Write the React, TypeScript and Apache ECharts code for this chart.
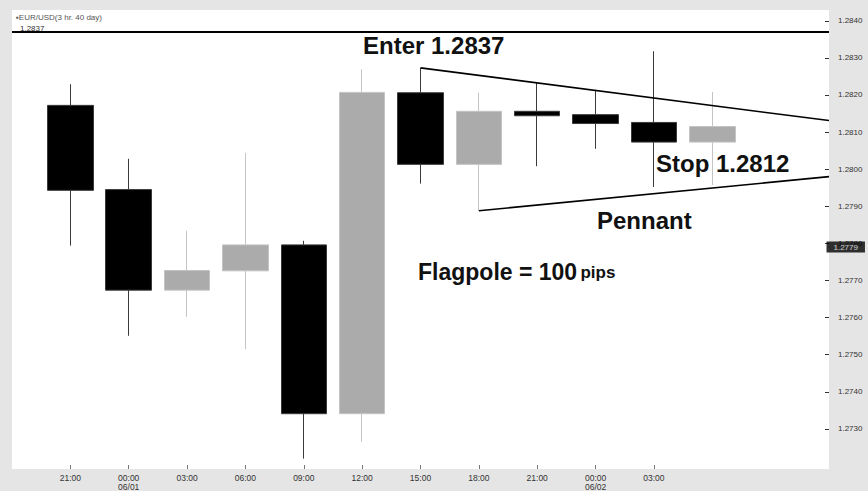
import React, { useEffect, useRef } from "react";
import * as echarts from "echarts";

const categories = [
  "05/31 18:00", "05/31 21:00", "06/01 00:00", "06/01 03:00", "06/01 06:00",
  "06/01 09:00", "06/01 12:00", "06/01 15:00", "06/01 18:00", "06/01 21:00",
  "06/02 00:00", "06/02 03:00", "06/02 06:00", "06/02 09:00", "06/02 12:00",
];
const xLabels = [
  "", "21:00", "00:00\n06/01", "03:00", "06:00", "09:00", "12:00", "15:00",
  "18:00", "21:00", "00:00\n06/02", "03:00", "", "", "",
];
const opens = [null, 1.28172, 1.27945, 1.27674, 1.27726, 1.27796, 1.27341, 1.28206, 1.28013, 1.28156, 1.28147, 1.28126, 1.28073, null, null];
const closes = [null, 1.27943, 1.27674, 1.27727, 1.27796, 1.27341, 1.28207, 1.28013, 1.28156, 1.28144, 1.28123, 1.28073, 1.28115, null, null];
const lows = [null, 1.27794, 1.27551, 1.27602, 1.27515, 1.2722, 1.27265, 1.27961, 1.27888, 1.28008, 1.28055, 1.27952, 1.27957, null, null];
const highs = [null, 1.28229, 1.28028, 1.27834, 1.28044, 1.27807, 1.28269, 1.28273, 1.28206, 1.28233, 1.28211, 1.28318, 1.28208, null, null];

const yTicks = [1.273, 1.274, 1.275, 1.276, 1.277, 1.278, 1.279, 1.28, 1.281, 1.282, 1.283, 1.284];
const upperLine = [[7, 1.28273], [14, 1.28131]];
const lowerLine = [[8, 1.27888], [14, 1.2798]];
const entryLine = [[0, 1.2837], [14, 1.2837]];
const lastPrice = 1.2779;

const FONT = "'Liberation Sans', Arial, sans-serif";

export default function App() {
  const ref = useRef<HTMLDivElement>(null);
  useEffect(() => {
    if (!ref.current) return;
    const chart = echarts.init(ref.current, null, { renderer: "svg" });
    const candleData = categories.map((_, i) =>
      opens[i] == null ? "-" : [opens[i], closes[i], lows[i], highs[i]]
    );
    chart.setOption({
      animation: false,
      backgroundColor: "#e5e5e5",
      textStyle: { fontFamily: FONT },
      grid: {
        left: 12, right: 39, top: 10, bottom: 19,
        show: true, backgroundColor: "#ffffff", borderWidth: 0,
      },
      xAxis: {
        type: "category",
        data: categories,
        boundaryGap: false,
        axisLine: { show: false },
        axisTick: {
          show: true, inside: true, length: 4,
          interval: (i: number) => i >= 1 && i <= 11,
          lineStyle: { color: "#777" },
        },
        axisLabel: {
          interval: 0, margin: 4, fontSize: 8.5, color: "#333", lineHeight: 9,
          formatter: (_v: string, i: number) => xLabels[i],
        },
        splitLine: { show: false },
      },
      yAxis: {
        type: "value",
        position: "right",
        min: 1.27192,
        max: 1.28429,
        axisLine: { show: false },
        splitLine: { show: false },
        axisTick: {
          show: true, inside: true, length: 4, customValues: yTicks,
          lineStyle: { color: "#333" },
        },
        axisLabel: {
          customValues: yTicks, fontSize: 8, color: "#333", margin: 9,
          formatter: (v: number) => v.toFixed(4),
        },
      },
      series: [
        {
          type: "candlestick",
          data: candleData,
          barWidth: 46,
          itemStyle: {
            color: "#ababab", color0: "#000000",
            borderColor: "#c4c4c4", borderColor0: "#3a3a3a", borderWidth: 1,
          },
        },
        {
          type: "line", data: entryLine, symbol: "none",
          lineStyle: { color: "#000", width: 2 }, z: 4,
        },
        {
          type: "line", data: upperLine, symbol: "none",
          lineStyle: { color: "#000", width: 1.6 }, z: 4,
        },
        {
          type: "line", data: lowerLine, symbol: "none",
          lineStyle: { color: "#000", width: 1.6 }, z: 4,
        },
        {
          type: "scatter",
          data: [[14, lastPrice]],
          symbolSize: 1,
          itemStyle: { color: "#000" },
          clip: false,
          z: 10,
          label: {
            show: true, position: "right", distance: -3,
            formatter: lastPrice.toFixed(4),
            backgroundColor: "#000", color: "#fff", fontSize: 8,
            padding: [2, 7, 1, 7],
          },
        },
      ],
      graphic: [
        {
          type: "text", left: 16, top: 13,
          style: { text: "▪EUR/USD(3 hr. 40 day)", fontSize: 8, fill: "#555", fontFamily: FONT },
        },
        {
          type: "text", left: 20, top: 24,
          style: { text: "1.2837", fontSize: 8, fill: "#333", fontFamily: FONT },
        },
        {
          type: "text", x: 363, y: 45,
          style: { text: "Enter 1.2837", fontSize: 24, fontWeight: "bold", fill: "#111", fontFamily: FONT, verticalAlign: "middle" },
        },
        {
          type: "text", x: 656, y: 163,
          style: { text: "Stop 1.2812", fontSize: 24, fontWeight: "bold", fill: "#111", fontFamily: FONT, verticalAlign: "middle" },
        },
        {
          type: "text", x: 597, y: 220,
          style: { text: "Pennant", fontSize: 24, fontWeight: "bold", fill: "#111", fontFamily: FONT, verticalAlign: "middle" },
        },
        {
          type: "text", x: 418, y: 272,
          style: {
            text: "{a|Flagpole = 100} {b|pips}",
            verticalAlign: "middle",
            rich: {
              a: { fontSize: 23, fontWeight: "bold", fill: "#111", fontFamily: FONT },
              b: { fontSize: 17, fontWeight: "bold", fill: "#111", fontFamily: FONT },
            },
          },
        },
      ],
    });
    return () => chart.dispose();
  }, []);
  return (
    <div
      ref={ref}
      style={{ position: "fixed", left: 0, top: 0, width: 868, height: 491 }}
    />
  );
}
